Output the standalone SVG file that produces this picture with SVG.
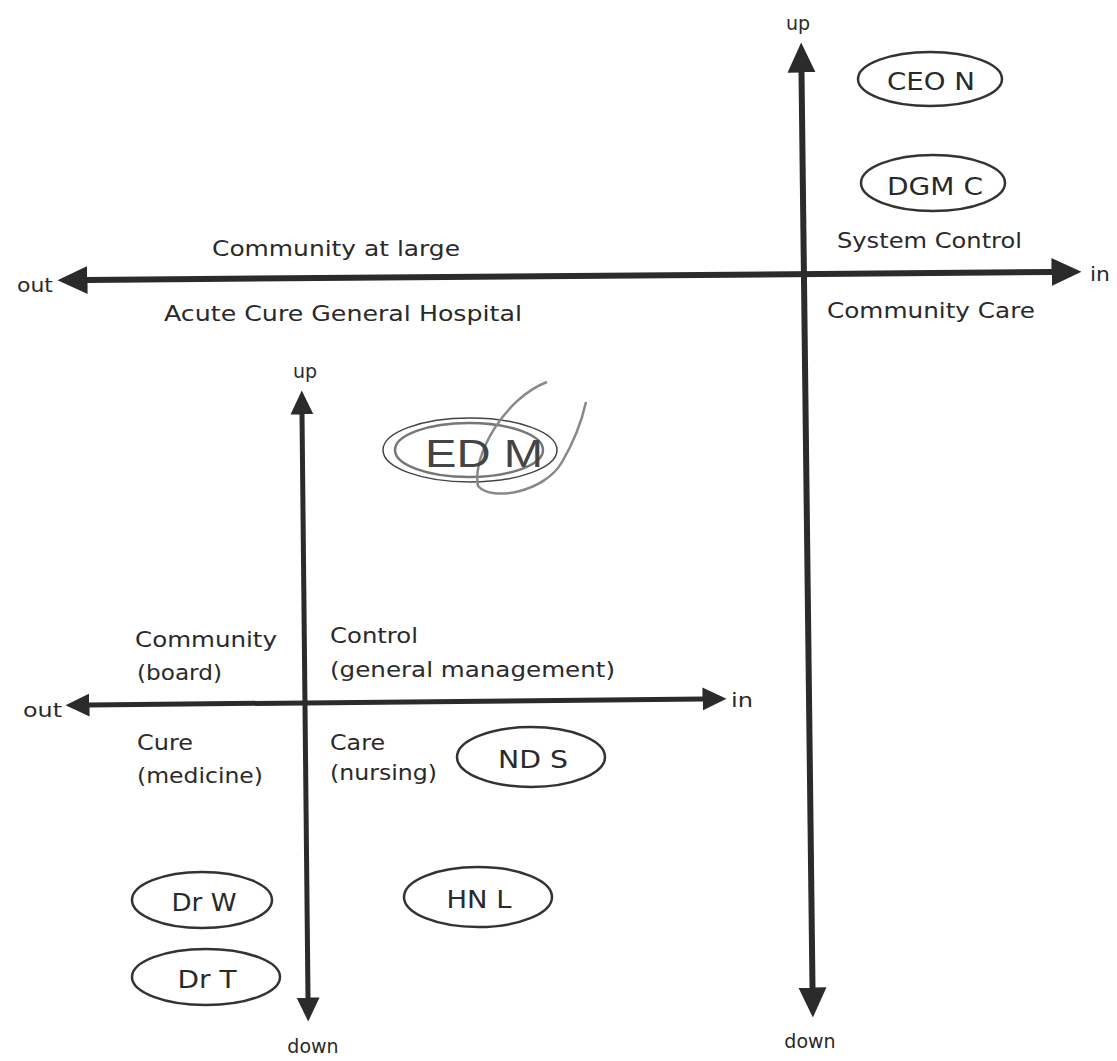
<svg xmlns="http://www.w3.org/2000/svg" width="1117" height="1061" viewBox="0 0 1117 1061">
<defs>
<style>
.lbl{font-family:"DejaVu Sans","Liberation Sans",sans-serif;font-size:22px;fill:#2a2a2a;}
.ax{font-family:"DejaVu Sans","Liberation Sans",sans-serif;font-size:19px;fill:#2a2a2a;}
.nt{font-family:"DejaVu Sans","Liberation Sans",sans-serif;font-size:24px;fill:#2a2a2a;text-anchor:middle;}
.node{fill:none;stroke:#333;stroke-width:2.5;}
.axis{fill:none;stroke:#2b2b2b;}
.big{stroke-width:6;}
.small{stroke-width:5;}
</style>
<marker id="bigHead" markerUnits="userSpaceOnUse" markerWidth="30" markerHeight="30" viewBox="0 0 30 30" refX="0.5" refY="15" orient="auto-start-reverse">
<path d="M0,1 L30,15 L0,29 z" fill="#2b2b2b"/>
</marker>
<marker id="smallHead" markerUnits="userSpaceOnUse" markerWidth="24" markerHeight="24" viewBox="0 0 24 24" refX="0.5" refY="12" orient="auto-start-reverse">
<path d="M0,0.5 L24,12 L0,23.5 z" fill="#2b2b2b"/>
</marker>
</defs>
<rect width="1117" height="1061" fill="#ffffff"/>

<g id="connectors">
<line class="axis big" x1="801.5" y1="72" x2="812.5" y2="988" marker-start="url(#bigHead)" marker-end="url(#bigHead)"/>
<line class="axis big" x1="87" y1="280" x2="1052" y2="272" marker-start="url(#bigHead)" marker-end="url(#bigHead)"/>
<line class="axis small" x1="302" y1="414" x2="308" y2="998" marker-start="url(#smallHead)" marker-end="url(#smallHead)"/>
<line class="axis small" x1="89" y1="705" x2="703" y2="699" marker-start="url(#smallHead)" marker-end="url(#smallHead)"/>
</g>

<g id="axis-labels">
<text class="ax" x="798" y="30" text-anchor="middle">up</text>
<text class="ax" x="810" y="1048" text-anchor="middle">down</text>
<text class="ax" x="17" y="292" textLength="36" lengthAdjust="spacingAndGlyphs">out</text>
<text class="ax" x="1090" y="281" textLength="20" lengthAdjust="spacingAndGlyphs">in</text>
<text class="ax" x="305" y="378" text-anchor="middle">up</text>
<text class="ax" x="313" y="1053" text-anchor="middle">down</text>
<text class="ax" x="23" y="717" textLength="39" lengthAdjust="spacingAndGlyphs">out</text>
<text class="ax" x="731" y="707" textLength="22" lengthAdjust="spacingAndGlyphs">in</text>
</g>

<g id="region-labels">
<text class="lbl" x="212" y="256" textLength="248" lengthAdjust="spacingAndGlyphs">Community at large</text>
<text class="lbl" x="164" y="321" textLength="358" lengthAdjust="spacingAndGlyphs">Acute Cure General Hospital</text>
<text class="lbl" x="837" y="248" textLength="185" lengthAdjust="spacingAndGlyphs">System Control</text>
<text class="lbl" x="827" y="318" textLength="208" lengthAdjust="spacingAndGlyphs">Community Care</text>
<text class="lbl" x="135" y="647" textLength="142" lengthAdjust="spacingAndGlyphs">Community</text>
<text class="lbl" x="137" y="680" textLength="85" lengthAdjust="spacingAndGlyphs">(board)</text>
<text class="lbl" x="137" y="750" textLength="56" lengthAdjust="spacingAndGlyphs">Cure</text>
<text class="lbl" x="137" y="783" textLength="126" lengthAdjust="spacingAndGlyphs">(medicine)</text>
<text class="lbl" x="330" y="643" textLength="88" lengthAdjust="spacingAndGlyphs">Control</text>
<text class="lbl" x="330" y="677" textLength="285" lengthAdjust="spacingAndGlyphs">(general management)</text>
<text class="lbl" x="330" y="750" textLength="55" lengthAdjust="spacingAndGlyphs">Care</text>
<text class="lbl" x="330" y="780" textLength="107" lengthAdjust="spacingAndGlyphs">(nursing)</text>
</g>

<g id="node-ceo-n">
<ellipse class="node" cx="930" cy="79" rx="72" ry="27"/>
<text class="nt" x="931" y="90" textLength="88" lengthAdjust="spacingAndGlyphs">CEO N</text>
</g>
<g id="node-dgm-c">
<ellipse class="node" cx="933" cy="183" rx="72" ry="28"/>
<text class="nt" x="935" y="195" textLength="96" lengthAdjust="spacingAndGlyphs">DGM C</text>
</g>
<g id="node-ed-m">
<ellipse cx="470" cy="450" rx="87" ry="32" fill="none" stroke="#444" stroke-width="1.5"/>
<ellipse cx="469" cy="450" rx="74" ry="27" fill="none" stroke="#777" stroke-width="2.5"/>
<path d="M547,382 C505,398 472,455 478,486 C492,502 545,492 562,462 C575,440 582,420 586,402" fill="none" stroke="#888" stroke-width="2.5"/>
<text x="484" y="467" text-anchor="middle" font-family="Liberation Sans, Arial, sans-serif" font-size="38" fill="#444" textLength="118" lengthAdjust="spacingAndGlyphs">ED M</text>
</g>
<g id="node-nd-s">
<ellipse class="node" cx="531" cy="757" rx="74" ry="30"/>
<text class="nt" x="533" y="768" textLength="70" lengthAdjust="spacingAndGlyphs">ND S</text>
</g>
<g id="node-dr-w">
<ellipse class="node" cx="202" cy="900" rx="70" ry="28"/>
<text class="nt" x="204" y="911" textLength="65" lengthAdjust="spacingAndGlyphs">Dr W</text>
</g>
<g id="node-dr-t">
<ellipse class="node" cx="206" cy="977" rx="74" ry="28"/>
<text class="nt" x="207" y="988" textLength="59" lengthAdjust="spacingAndGlyphs">Dr T</text>
</g>
<g id="node-hn-l">
<ellipse class="node" cx="478" cy="897" rx="74" ry="30"/>
<text class="nt" x="479" y="908" textLength="65" lengthAdjust="spacingAndGlyphs">HN L</text>
</g>
</svg>
